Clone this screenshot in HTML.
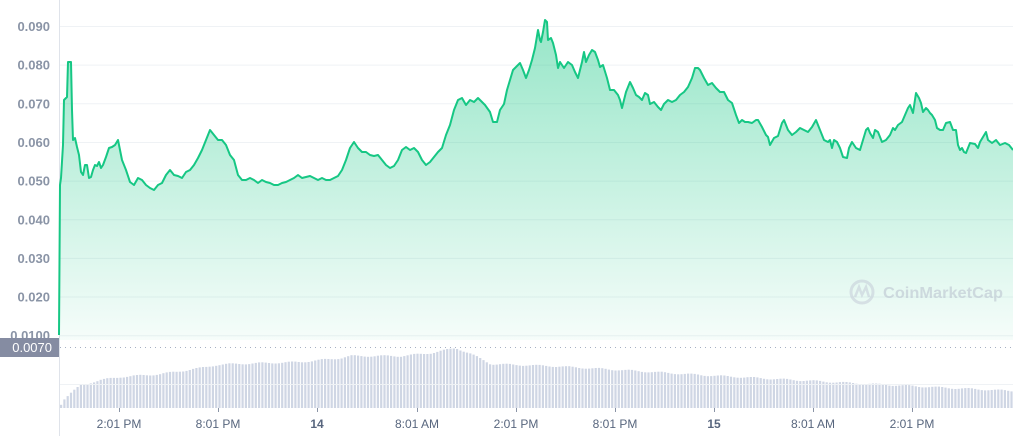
<!DOCTYPE html>
<html><head><meta charset="utf-8"><style>
html,body{margin:0;padding:0;background:#fff;}
body{width:1013px;height:436px;overflow:hidden;font-family:"Liberation Sans",sans-serif;}
</style></head><body>
<svg id="s" width="1013" height="436" xmlns="http://www.w3.org/2000/svg" style="position:absolute;left:0;top:0">
<defs>
<linearGradient id="g" x1="0" y1="0" x2="0" y2="1">
<stop offset="0" stop-color="#16c784" stop-opacity="0.45"/>
<stop offset="1" stop-color="#16c784" stop-opacity="0.04"/>
</linearGradient>
</defs>
<g id="grid" stroke="#eff2f5" stroke-width="1"></g>
<line x1="59.5" y1="0" x2="59.5" y2="436" stroke="#dfe3ea"/>
<path id="area" fill="url(#g)"/>
<path id="line" fill="none" stroke="#16c784" stroke-width="2" stroke-linejoin="round"/>
<g id="vol" fill="#cfd6e4"></g>
<line x1="60" y1="347.5" x2="1013" y2="347.5" stroke="#a6b0c3" stroke-dasharray="1,4"/>
<line x1="60" y1="384.5" x2="1013" y2="384.5" stroke="#eff2f5"/>
<g id="ylab" fill="#8a94a6" font-size="13" font-weight="bold" text-anchor="end"></g>
<rect x="0" y="338" width="59" height="19" fill="#858ca2"/>
<text x="52" y="352" fill="#fff" font-size="13" text-anchor="end">0.0070</text>
<g id="xt" stroke="#8a94a6"></g>
<g id="xl" fill="#58667e" font-size="12" text-anchor="middle"></g>
<g opacity="0.55">
<circle cx="862" cy="292" r="11" fill="none" stroke="#c5ccd8" stroke-width="3"/>
<path d="M855 297 L859 287 L862 295 L866 287 L869 297" fill="none" stroke="#c5ccd8" stroke-width="2.5"/>
<text x="883" y="298" fill="#b8c0cd" font-size="16" font-weight="bold" textLength="120" lengthAdjust="spacingAndGlyphs">CoinMarketCap</text>
</g>
</svg>
<script>
var ns="http://www.w3.org/2000/svg";
function el(p,t,a,txt){var e=document.createElementNS(ns,t);for(var k in a)e.setAttribute(k,a[k]);if(txt)e.textContent=txt;document.getElementById(p).appendChild(e);}
var labs=["0.090","0.080","0.070","0.060","0.050","0.040","0.030","0.020","0.0100"];
for(var i=0;i<9;i++){var y=26+i*38.65;el("grid","line",{x1:60,x2:1013,y1:y+.5,y2:y+.5});el("ylab","text",{x:50,y:y+5},labs[i]);}
var xs=[[119,"2:01 PM"],[218,"8:01 PM"],[317,"14"],[417,"8:01 AM"],[516,"2:01 PM"],[615,"8:01 PM"],[714,"15"],[813,"8:01 AM"],[912,"2:01 PM"]];
xs.forEach(function(a){el("xt","line",{x1:a[0]+.5,x2:a[0]+.5,y1:408,y2:412});var o={x:a[0],y:428};if(a[1].length<3)o["font-weight"]="bold";el("xl","text",o,a[1]);});
var p=[59,335,60,185,61,178,63,145,64,100,66,98,67,97,68,62,70,62,71,62,72,110,73,140,75,138,77,147,79,155,81,172,83,175,85,165,87,165,89,178,91,177,93,170,95,165,97,166,99,162,101,168,103,165,106,157,109,148,112,147,115,145,118,140,120,150,122,160,126,170,130,182,134,185,138,178,142,180,146,185,150,188,154,190,158,185,162,183,166,175,170,170,174,175,178,176,182,178,186,172,190,170,194,165,198,158,202,150,206,140,210,130,214,135,218,140,222,140,226,145,230,155,234,160,238,175,242,180,246,180,250,178,254,180,258,183,262,180,266,182,270,183,274,185,278,185,282,183,286,182,290,180,294,178,298,175,302,178,306,177,310,176,314,178,318,180,322,178,326,180,330,180,334,178,338,176,342,170,346,160,350,148,354,142,358,148,362,152,366,152,370,155,374,156,378,155,382,160,386,165,390,168,394,166,398,160,402,150,406,147,410,150,414,148,418,152,422,160,426,165,430,162,434,157,438,152,442,148,446,135,450,125,454,110,458,100,462,98,466,105,470,100,474,102,478,98,480,100,485,105,490,112,493,122,497,122,500,110,504,104,507,90,510,80,513,70,517,66,520,63,523,70,526,78,529,70,532,60,535,48,538,30,540,40,541,42,543,32,545,20,547,22,548,40,551,38,553,43,556,55,558,68,560,62,564,68,568,62,572,65,575,72,578,78,582,62,584,52,586,62,589,55,592,50,595,52,598,60,600,67,603,65,607,78,610,90,614,90,618,95,620,100,622,108,626,92,630,82,633,88,636,95,639,97,642,100,645,93,648,95,650,104,654,102,658,107,661,110,664,104,668,100,672,102,676,100,680,95,684,92,688,87,692,78,695,68,698,68,700,70,704,78,708,85,712,83,716,88,720,92,724,92,728,100,732,103,736,115,739,123,742,120,745,122,748,122,752,123,756,120,758,120,762,127,766,135,768,137,770,145,774,138,778,136,782,123,784,120,788,130,792,135,796,132,800,128,804,130,808,132,812,127,816,120,820,130,824,140,828,142,830,140,832,148,834,140,837,142,840,148,843,157,847,158,849,148,852,142,856,148,860,150,863,140,866,130,868,128,870,133,873,138,875,130,878,132,882,142,886,140,890,135,893,128,895,130,898,125,902,122,905,115,908,108,910,105,913,113,916,93,919,98,921,103,923,112,926,108,928,110,930,113,932,115,935,120,937,128,940,130,943,130,946,123,950,122,953,130,956,130,958,145,960,150,962,148,964,152,966,153,968,148,970,143,975,144,978,148,980,142,983,137,986,132,988,140,992,143,996,140,1000,145,1005,143,1009,145,1013,150];
var d="M"+p[0]+","+p[1];for(var i=2;i<p.length;i+=2)d+=" L"+p[i]+","+p[i+1];
document.getElementById("line").setAttribute("d",d);
document.getElementById("area").setAttribute("d",d+" L1013,340 L59,340 Z");
var v=[[60,404],[62,400],[70,393],[80,385],[100,380],[119,377],[160,374],[200,368],[215,365],[230,364],[300,362],[340,358],[350,356],[400,356],[430,353],[455,348],[470,354],[490,364],[550,366],[620,370],[700,375],[850,383],[950,388],[1013,391]];
function vy(x){for(var i=0;i<v.length-1;i++){if(x>=v[i][0]&&x<=v[i+1][0]){var t=(x-v[i][0])/(v[i+1][0]-v[i][0]);return v[i][1]+t*(v[i+1][1]-v[i][1]);}}return 391;}
for(var x=60;x<1013;x+=3.3){var y=vy(x)+Math.sin(x*1.7)*0.8;el("vol","rect",{x:x.toFixed(1),y:y.toFixed(1),width:2.2,height:(408-y).toFixed(1)});}
</script>
</body></html>
